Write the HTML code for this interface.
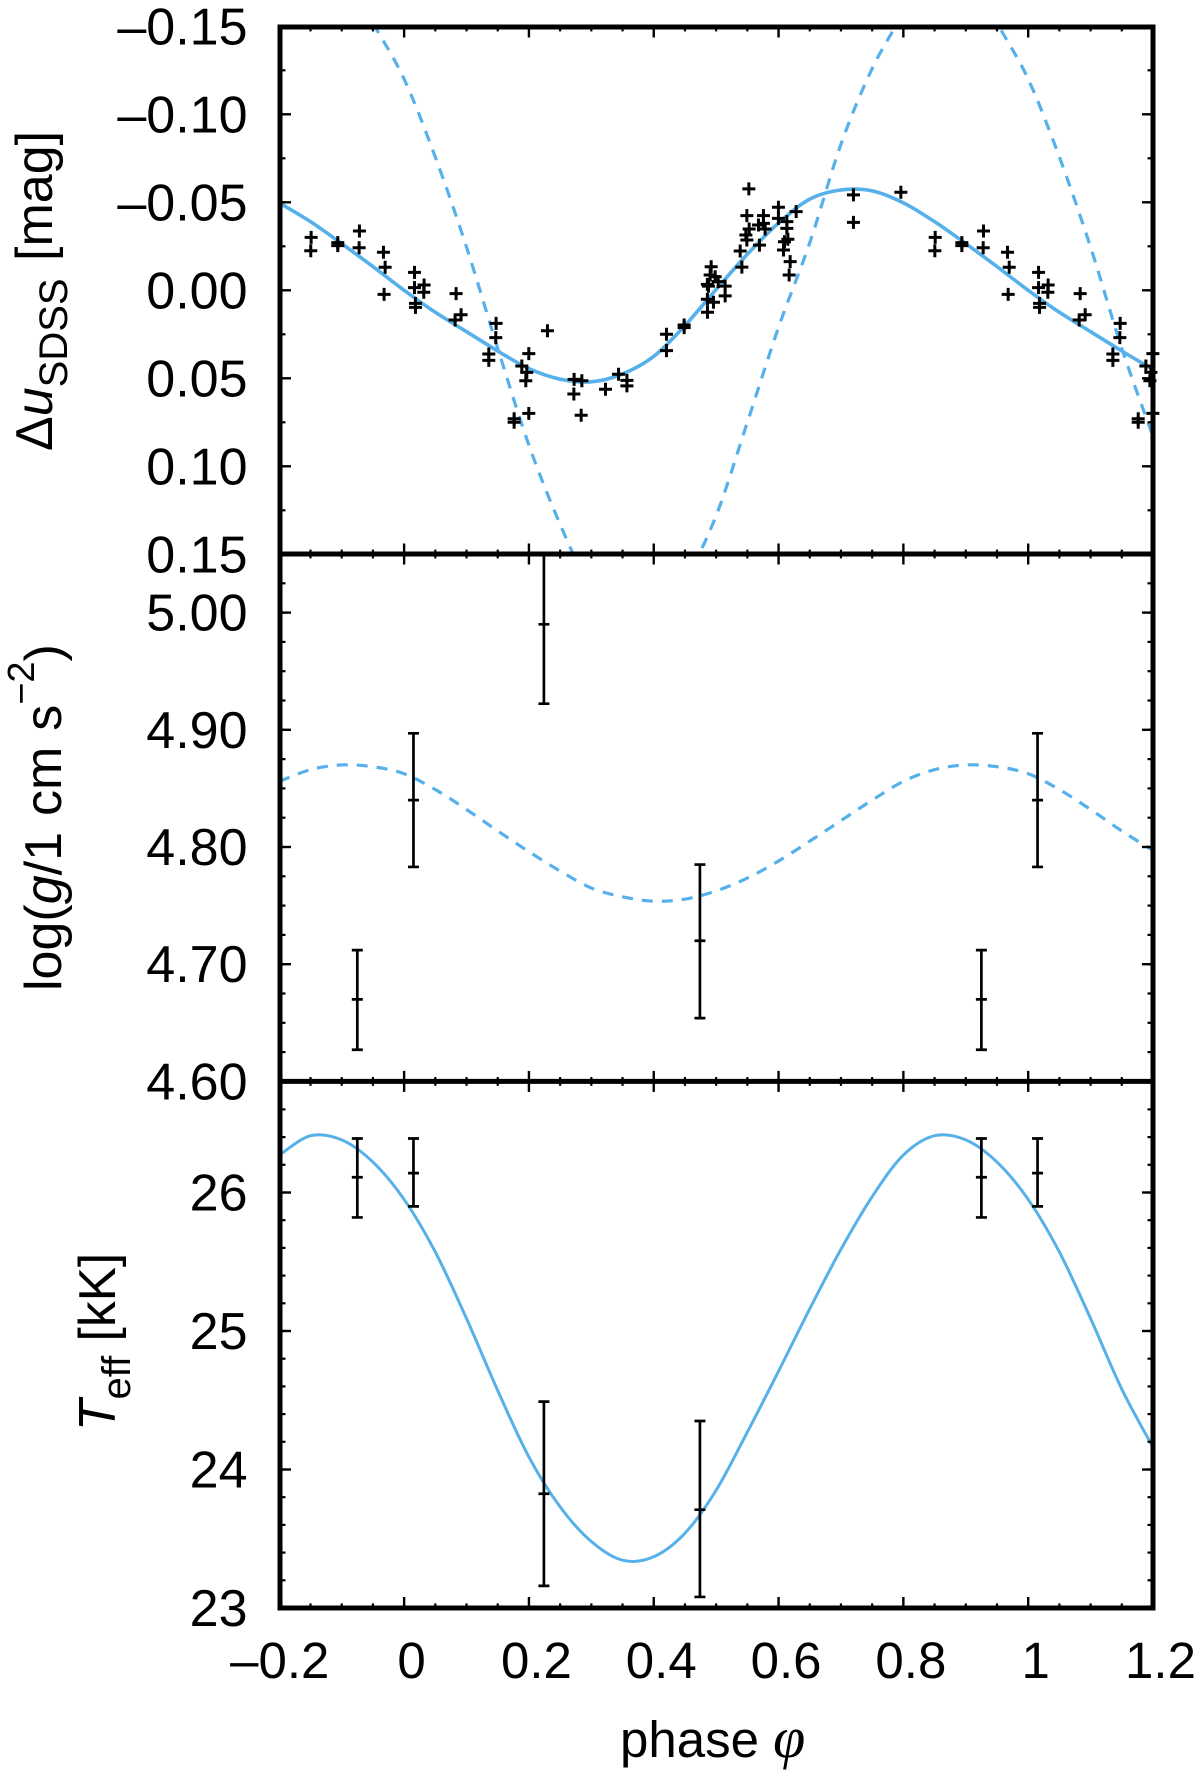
<!DOCTYPE html>
<html lang="en">
<head>
<meta charset="utf-8">
<title>Phase curves</title>
<style>
html,body{margin:0;padding:0;background:#fff}
svg{display:block}
text{font-family:"Liberation Sans",sans-serif;fill:#000}
</style>
</head>
<body>
<svg id="chart" xmlns="http://www.w3.org/2000/svg" width="1200" height="1774" viewBox="0 0 1200 1774">
  <rect x="0" y="0" width="1200" height="1774" fill="#fff"/>
  <defs>
    <clipPath id="clip-top"><rect x="280" y="27" width="873" height="527"/></clipPath>
    <clipPath id="clip-mid"><rect x="280" y="554" width="873" height="527"/></clipPath>
    <clipPath id="clip-bot"><rect x="280" y="1081" width="873" height="527"/></clipPath>
  </defs>
  <g id="curves"></g>
  <g id="marks"></g>
  <g id="frame"></g>
  <g id="labels"></g>
  <text transform="translate(52 451) rotate(-90)" font-size="52" word-spacing="3">Δ<tspan font-style="italic">u</tspan><tspan font-size="40" dy="15">SDSS</tspan><tspan dy="-15"> [mag]</tspan></text>
  <text transform="translate(61 991) rotate(-90)" font-size="52" word-spacing="1.5">log(<tspan font-style="italic">g</tspan>/1 cm s<tspan font-size="38" dy="-27">−2</tspan><tspan dy="27">)</tspan></text>
  <text transform="translate(115 1431) rotate(-90)" font-size="51.5"><tspan font-style="italic">T</tspan><tspan font-size="40" dy="15">eff</tspan><tspan dy="-15"> [kK]</tspan></text>
  <text x="620" y="1757" font-size="51">phase <tspan font-style="italic" font-family="Liberation Serif, serif" font-size="58">φ</tspan></text>
</svg>
<script>
const phaseGrid = [-0.20,-0.15,-0.10,-0.05,0.00,0.05,0.10,0.15,0.20,0.25,0.30,0.35,0.40,0.45,0.50,0.55,0.60,0.65,0.70,0.75,0.80,0.85,0.90,0.95,1.00,1.05,1.10,1.15,1.20];
const magSolid = [-0.0497,-0.0390,-0.0265,-0.0135,0.0000,0.0125,0.0235,0.0345,0.0445,0.0505,0.0520,0.0475,0.0375,0.0200,-0.0005,-0.0205,-0.0382,-0.0518,-0.0570,-0.0565,-0.0497,-0.0390,-0.0265,-0.0135,0.0000,0.0125,0.0235,0.0345,0.0450];
const magDashed = [-0.157,-0.185,-0.185,-0.152,-0.120,-0.0757,-0.0245,0.033,0.088,0.133,0.170,0.190,0.190,0.165,0.128,0.075,0.021,-0.027,-0.083,-0.126,-0.157,-0.185,-0.185,-0.152,-0.120,-0.0757,-0.0245,0.033,0.083];
const loggDashed = [4.856,4.866,4.870,4.8685,4.8625,4.849,4.832,4.8137,4.796,4.7795,4.765,4.7575,4.7538,4.7555,4.7625,4.7735,4.788,4.805,4.8225,4.840,4.856,4.866,4.870,4.8685,4.8625,4.849,4.832,4.8137,4.797];
const teffSolid = [26.27,26.41,26.38,26.22,25.95,25.57,25.09,24.57,24.09,23.73,23.48,23.345,23.37,23.54,23.85,24.27,24.71,25.16,25.59,25.97,26.27,26.41,26.38,26.22,25.95,25.57,25.09,24.58,24.16];

const obsPhase = [-0.149,-0.1496,-0.1063,-0.1063,-0.0716,-0.0721,-0.0331,-0.0304,-0.0321,0.0166,0.0166,0.032,0.0315,0.0182,0.0182,0.0833,0.0913,0.0817,0.1474,0.1469,0.1357,0.1357,0.1886,0.1966,0.195,0.1998,0.1998,0.1763,0.1763,0.2297,0.2724,0.2848,0.272,0.2837,0.3227,0.3436,0.357,0.357,0.4204,0.4204,0.4487,0.4487,0.4861,0.486,0.4957,0.4877,0.486,0.4904,0.492,0.4984,0.5032,0.5144,0.5144,0.5412,0.5385,0.5492,0.5476,0.5529,0.5492,0.5524,0.5758,0.5678,0.5758,0.5785,0.5694,0.5998,0.5998,0.6133,0.6133,0.6149,0.6079,0.6095,0.6186,0.617,0.6282,0.72,0.72,0.796];
const obsMag = [-0.0301,-0.0225,-0.0271,-0.0254,-0.0337,-0.0242,-0.0216,-0.0131,0.0023,-0.0102,-0.0015,-0.003,0.0011,0.0074,0.0097,0.0019,0.0139,0.0169,0.0188,0.0269,0.0362,0.0398,0.043,0.0466,0.0514,0.036,0.0699,0.073,0.075,0.023,0.0506,0.0514,0.0589,0.071,0.0562,0.0477,0.0512,0.0543,0.025,0.0343,0.0197,0.0212,0.0125,0.0051,0.0068,-0.0024,-0.0034,-0.0087,-0.0134,-0.0077,-0.0049,-0.0024,0.0032,-0.0132,-0.0223,-0.0286,-0.0314,-0.0348,-0.0424,-0.0576,-0.0424,-0.0371,-0.038,-0.0348,-0.0257,-0.0472,-0.0409,-0.039,-0.0352,-0.029,-0.0229,-0.0276,-0.0163,-0.0087,-0.0447,-0.0542,-0.0386,-0.0557];

const specPhase = [-0.075,0.015,0.224,0.474];
const loggCentre = [4.67,4.84,4.99,4.72];
const loggLow = [4.627,4.783,4.9223,4.654];
const loggHigh = [4.712,4.897,5.058,4.785];
const teffCentre = [26.11,26.14,23.825,23.71];
const teffLow = [25.82,25.90,23.16,23.08];
const teffHigh = [26.39,26.39,24.49,24.35];

const xMajor = [-0.2,0,0.2,0.4,0.6,0.8,1,1.2];
const xLabels = ['–0.2','0','0.2','0.4','0.6','0.8','1','1.2'];
const magTicks = [-0.15,-0.10,-0.05,0,0.05,0.10,0.15];
const magLabels = ['–0.15','–0.10','–0.05','0.00','0.05','0.10','0.15'];
const loggTicks = [4.6,4.7,4.8,4.9,5.0];
const loggLabels = ['4.60','4.70','4.80','4.90','5.00'];
const teffTicks = [23,24,25,26];
const teffLabels = ['23','24','25','26'];

const NS = 'http://www.w3.org/2000/svg';
const BLUE = '#56b0ea';
const LEFT = 280, RIGHT = 1153;
const PHASE_MIN = -0.2, PHASE_MAX = 1.2;

function linear(d0, d1, r0, r1) {
  return function (v) { return r0 + (v - d0) * (r1 - r0) / (d1 - d0); };
}
const xAxis = linear(PHASE_MIN, PHASE_MAX, 279.3, 1153);
const yMag = linear(-0.15, 0.15, 26.3, 554.3);
const yLogg = linear(4.6, 5.05, 1081.4, 554);
const yTeff = linear(23, 26.8, 1608, 1081.7);

function make(tag, parent, attrs) {
  const el = document.createElementNS(NS, tag);
  for (const k in attrs) el.setAttribute(k, attrs[k]);
  parent.appendChild(el);
  return el;
}
function smoothPath(xs, ys, yScale) {
  const pts = xs.map(function (x, i) { return [xAxis(x), yScale(ys[i])]; });
  let d = 'M' + pts[0][0].toFixed(2) + ' ' + pts[0][1].toFixed(2);
  for (let i = 0; i < pts.length - 1; i++) {
    const p0 = pts[Math.max(i - 1, 0)], p1 = pts[i], p2 = pts[i + 1], p3 = pts[Math.min(i + 2, pts.length - 1)];
    const c1x = p1[0] + (p2[0] - p0[0]) / 6, c1y = p1[1] + (p2[1] - p0[1]) / 6;
    const c2x = p2[0] - (p3[0] - p1[0]) / 6, c2y = p2[1] - (p3[1] - p1[1]) / 6;
    d += 'C' + c1x.toFixed(2) + ' ' + c1y.toFixed(2) + ' ' + c2x.toFixed(2) + ' ' + c2y.toFixed(2) + ' ' + p2[0].toFixed(2) + ' ' + p2[1].toFixed(2);
  }
  return d;
}

const curves = document.getElementById('curves');
const marks = document.getElementById('marks');
const frame = document.getElementById('frame');
const labels = document.getElementById('labels');

const c1 = make('path', curves, {d: smoothPath(phaseGrid, magDashed, yMag), fill: 'none', stroke: BLUE, 'stroke-width': 3.2, 'stroke-dasharray': '11 9', 'clip-path': 'url(#clip-top)'});


const c2 = make('path', curves, {d: smoothPath(phaseGrid, magSolid, yMag), fill: 'none', stroke: BLUE, 'stroke-width': 3.6, 'clip-path': 'url(#clip-top)'});


const c3 = make('path', curves, {d: smoothPath(phaseGrid, loggDashed, yLogg), fill: 'none', stroke: BLUE, 'stroke-width': 3.2, 'stroke-dasharray': '11 9', 'clip-path': 'url(#clip-mid)'});


const c4 = make('path', curves, {d: smoothPath(phaseGrid, teffSolid, yTeff), fill: 'none', stroke: BLUE, 'stroke-width': 3, 'clip-path': 'url(#clip-bot)'});



function drawCross(phase, mag) {
  if (phase < PHASE_MIN - 0.001 || phase > PHASE_MAX + 0.001) return;
  const x = xAxis(phase), y = yMag(mag), r = 6.5;
  const p = make('path', marks, {d: 'M' + (x - r) + ' ' + y + 'H' + (x + r) + 'M' + x + ' ' + (y - r) + 'V' + (y + r), stroke: '#000', 'stroke-width': 3, fill: 'none'});
  
  
}
obsPhase.forEach(function (ph, i) {
  drawCross(ph, obsMag[i]);
  drawCross(ph + 1, obsMag[i]);
});

function drawError(phase, centre, low, high, yScale, clip) {
  const x = xAxis(phase), h = 5.5;
  const d = 'M' + x + ' ' + yScale(low) + 'V' + yScale(high) +
    'M' + (x - h) + ' ' + yScale(low) + 'H' + (x + h) +
    'M' + (x - h) + ' ' + yScale(high) + 'H' + (x + h) +
    'M' + (x - h) + ' ' + yScale(centre) + 'H' + (x + h);
  const p = make('path', marks, {d: d, stroke: '#000', 'stroke-width': 2.7, fill: 'none', 'clip-path': clip});
  
  
}
[0, 1].forEach(function (shift) {
  specPhase.forEach(function (ph, i) {
    if (shift === 0 || ph + shift <= PHASE_MAX) {
      if (shift === 1 && ph > 0.1) return;
      drawError(ph + shift, loggCentre[i], loggLow[i], loggHigh[i], yLogg, 'url(#clip-mid)');
      drawError(ph + shift, teffCentre[i], teffLow[i], teffHigh[i], yTeff, 'url(#clip-bot)');
    }
  });
});

function hLine(y, name) {
  const l = make('line', frame, {x1: LEFT - 2.5, x2: RIGHT + 2.5, y1: y, y2: y, stroke: '#000', 'stroke-width': 5});
  
  
}
function vLine(x, name) {
  const l = make('line', frame, {x1: x, x2: x, y1: 24.6, y2: 1610.4, stroke: '#000', 'stroke-width': 5});
  
  
}
hLine(27, 'top-border');
hLine(554, 'divider-upper');
hLine(1081.4, 'divider-lower');
hLine(1608, 'bottom-border');
vLine(LEFT, 'left-border');
vLine(RIGHT, 'right-border');

function tickLine(x1, y1, x2, y2, w, name) {
  const l = make('line', frame, {x1: x1, y1: y1, x2: x2, y2: y2, stroke: '#000', 'stroke-width': w});
  
  
}
function xTicks(y, up, down) {
  for (let i = 0; i <= 28; i++) {
    const ph = PHASE_MIN + i * 0.05;
    if (i === 0 || i === 28) continue;
    const major = i % 4 === 0;
    const u = major ? up : up * 0.42, dn = major ? down : down * 0.42;
    tickLine(xAxis(ph), y - u, xAxis(ph), y + dn, major ? 2.4 : 2.2, major ? 'x-major-tick' : 'x-minor-tick');
  }
}
xTicks(27, 0, 10.5);
xTicks(554, 10.5, 10.5);
xTicks(1081.4, 10.5, 10.5);
xTicks(1608, 11, 0);

function yTicksMajor(values, scale) {
  values.forEach(function (v) {
    const y = scale(v);
    tickLine(LEFT, y, LEFT + 11, y, 2.4, 'y-major-tick');
    tickLine(RIGHT, y, RIGHT - 11, y, 2.4, 'y-major-tick');
  });
}
function yTicksMinor(start, step, count, scale) {
  for (let i = 0; i < count; i++) {
    const y = scale(start + i * step);
    tickLine(LEFT, y, LEFT + 5.5, y, 2.2, 'y-minor-tick');
    tickLine(RIGHT, y, RIGHT - 5.5, y, 2.2, 'y-minor-tick');
  }
}
yTicksMajor(magTicks.slice(1, -1), yMag);
yTicksMinor(-0.125, 0.05, 6, yMag);
yTicksMajor(loggTicks.slice(1), yLogg);
yTicksMinor(4.625, 0.025, 17, yLogg);
yTicksMajor(teffTicks.slice(1), yTeff);
yTicksMinor(23.2, 0.2, 18, yTeff);

function yLabelSet(values, texts, scale, name) {
  values.forEach(function (v, i) {
    const t = make('text', labels, {x: 247.5, y: scale(v) + 18, 'font-size': 52, 'text-anchor': 'end'});
    t.textContent = texts[i];
    
    
  });
}
yLabelSet(magTicks, magLabels, yMag, 'y-tick-label-magnitude');
yLabelSet(loggTicks, loggLabels, yLogg, 'y-tick-label-gravity');
yLabelSet(teffTicks, teffLabels, yTeff, 'y-tick-label-temperature');

xMajor.forEach(function (v, i) {
  const shift = xLabels[i].charAt(0) === '–' ? 0.5 : 7.5;
  const t = make('text', labels, {x: xAxis(v) + shift, y: 1678, 'font-size': 51, 'text-anchor': 'middle'});
  t.textContent = xLabels[i];
  
  
});
</script>
</body>
</html>
